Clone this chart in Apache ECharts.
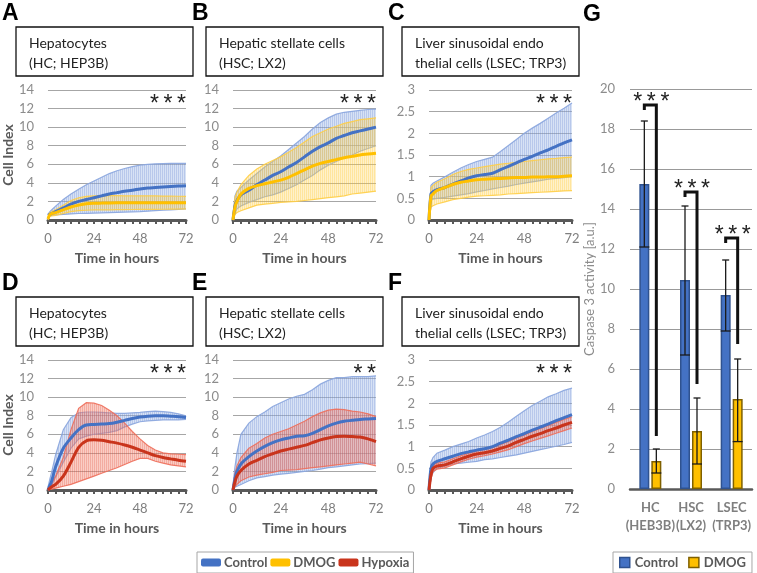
<!DOCTYPE html>
<html><head><meta charset="utf-8">
<script src="https://cdn.jsdelivr.net/npm/echarts@6/dist/echarts.min.js"></script>
<style>html,body{margin:0;padding:0;background:#fff}#c{width:757px;height:573px}</style>
</head><body><div id="c"></div>
<script>
// ---------- DATA ----------
const hours = [0,1,2,4,8,12,16,20,24,28,32,36,40,44,48,52,56,60,64,68,72];

// Panel A (HC, HEP3B) Control vs DMOG
const aCtrl   = [0.5,0.6,0.7,0.9,1.3,1.7,2.0,2.2,2.4,2.6,2.8,2.95,3.1,3.2,3.35,3.45,3.5,3.55,3.6,3.65,3.7];
const aCtrlHi = [0.6,0.9,1.1,1.5,2.2,2.8,3.3,3.8,4.2,4.6,5.0,5.3,5.55,5.75,5.9,6.0,6.05,6.08,6.1,6.1,6.1];
const aCtrlLo = [0.4,0.45,0.5,0.55,0.6,0.65,0.7,0.72,0.75,0.77,0.8,0.82,0.85,0.88,0.9,0.95,1.0,1.05,1.1,1.15,1.2];
const aDmog   = [0.1,0.6,0.7,0.8,1.1,1.4,1.6,1.75,1.8,1.82,1.84,1.85,1.85,1.86,1.86,1.86,1.86,1.85,1.85,1.85,1.85];
const aDmogHi = [0.3,0.8,0.9,1.1,1.6,2.1,2.4,2.55,2.6,2.62,2.62,2.62,2.6,2.6,2.6,2.6,2.6,2.58,2.57,2.56,2.55];
const aDmogLo = [0.0,0.4,0.45,0.5,0.7,0.9,1.0,1.05,1.1,1.1,1.1,1.12,1.12,1.13,1.14,1.15,1.15,1.16,1.17,1.18,1.2];
// Panel B (HSC, LX2)
const bCtrl   = [0,1.5,2.1,2.7,3.2,3.8,4.3,4.8,5.2,5.7,6.2,6.8,7.4,7.9,8.3,8.8,9.1,9.4,9.6,9.8,10.0];
const bCtrlHi = [0.3,2.6,3.1,3.5,4.3,5.0,5.7,6.3,6.9,7.6,8.3,9.0,9.8,10.5,11.0,11.4,11.6,11.7,11.8,11.9,11.95];
const bCtrlLo = [0,0.8,1.2,1.5,1.9,2.2,2.5,2.7,3.0,3.4,3.8,4.3,4.8,5.4,5.9,6.3,6.7,7.0,7.4,7.7,8.0];
const bDmog   = [0,1.4,2.0,2.8,3.4,3.7,3.9,4.1,4.3,4.6,5.0,5.4,5.8,6.1,6.3,6.5,6.7,6.85,7.0,7.1,7.2];
const bDmogHi = [0.2,2.4,3.0,3.8,4.8,5.5,6.0,6.4,6.8,7.3,7.8,8.4,9.0,9.4,9.8,10.1,10.4,10.6,10.8,10.9,11.0];
const bDmogLo = [0,0.6,0.8,1.0,1.3,1.6,1.7,1.8,1.9,1.95,2.0,2.1,2.2,2.3,2.4,2.5,2.6,2.8,2.9,3.0,3.1];
// Panel C (LSEC, TRP3)
const cCtrl   = [0,0.6,0.65,0.7,0.75,0.83,0.9,0.97,1.02,1.05,1.08,1.16,1.24,1.32,1.4,1.47,1.55,1.62,1.7,1.78,1.85];
const cCtrlHi = [0.1,0.8,0.85,0.9,1.0,1.1,1.2,1.28,1.35,1.4,1.45,1.58,1.72,1.86,2.0,2.12,2.23,2.35,2.47,2.58,2.7];
const cCtrlLo = [0,0.45,0.48,0.5,0.52,0.55,0.58,0.61,0.65,0.68,0.72,0.75,0.78,0.82,0.85,0.88,0.91,0.94,0.96,0.98,1.0];
const cDmog   = [0,0.55,0.6,0.68,0.75,0.82,0.87,0.9,0.93,0.94,0.95,0.96,0.97,0.98,0.98,0.99,0.99,1.0,1.0,1.01,1.02];
const cDmogHi = [0.1,0.75,0.8,0.87,0.95,1.05,1.12,1.17,1.2,1.23,1.26,1.29,1.31,1.33,1.35,1.37,1.39,1.41,1.42,1.44,1.45];
const cDmogLo = [0,0.3,0.33,0.37,0.42,0.47,0.5,0.53,0.55,0.56,0.57,0.58,0.6,0.61,0.62,0.63,0.64,0.65,0.66,0.67,0.68];
// Panel D (HC, HEP3B) Control vs Hypoxia
const dCtrl   = [0,0.5,1.0,2.5,4.5,5.6,6.5,7.0,7.05,7.1,7.15,7.3,7.5,7.7,7.85,7.95,8.0,8.0,7.95,7.9,7.8];
const dCtrlHi = [0.3,1.2,2.0,3.8,6.5,7.8,8.3,8.4,8.4,8.35,8.3,8.25,8.25,8.3,8.35,8.45,8.5,8.45,8.35,8.2,8.0];
const dCtrlLo = [0,0.2,0.5,1.4,3.0,4.5,5.5,5.8,6.0,6.1,6.2,6.4,6.8,7.1,7.35,7.45,7.5,7.55,7.55,7.55,7.6];
const dHyp    = [0,0.2,0.35,0.6,1.5,3.0,4.6,5.3,5.4,5.35,5.2,5.05,4.85,4.6,4.3,4.0,3.7,3.5,3.35,3.2,3.1];
const dHypHi  = [0.2,0.5,0.8,1.5,3.5,6.5,8.8,9.4,9.35,9.1,8.6,8.0,7.2,6.3,5.5,4.8,4.3,4.0,3.9,3.85,3.8];
const dHypLo  = [0,0.05,0.1,0.2,0.4,0.6,0.9,1.2,1.5,1.8,2.1,2.4,2.75,3.1,3.4,3.4,3.1,2.9,2.7,2.6,2.5];
// Panel E (HSC, LX2)
const eCtrl   = [0,1.2,2.0,2.8,3.6,4.2,4.7,5.1,5.4,5.6,5.8,5.85,6.1,6.5,6.9,7.2,7.4,7.5,7.6,7.65,7.7];
const eCtrlHi = [0.5,2.5,4.0,6.0,7.2,7.9,8.4,9.0,9.4,9.8,10.1,10.3,10.8,11.4,11.8,12.1,12.1,12.2,12.2,12.2,12.3];
const eCtrlLo = [0,0.3,0.4,0.6,1.0,1.3,1.45,1.6,1.7,1.8,1.9,2.0,2.1,2.25,2.4,2.5,2.6,2.7,2.8,2.85,2.9];
const eHyp    = [0,0.9,1.5,2.1,2.8,3.2,3.6,3.9,4.2,4.4,4.6,4.8,5.1,5.4,5.6,5.75,5.8,5.75,5.7,5.5,5.2];
const eHypHi  = [0.3,1.8,2.6,3.5,4.5,5.0,5.6,6.0,6.3,6.6,7.0,7.4,7.9,8.3,8.6,8.7,8.65,8.5,8.4,8.2,7.9];
const eHypLo  = [0,0.4,0.6,1.0,1.4,1.6,1.75,1.9,2.1,2.15,2.2,2.3,2.4,2.5,2.6,2.7,2.8,2.9,3.0,2.8,2.6];
// Panel F (LSEC, TRP3)
const fCtrl   = [0,0.5,0.6,0.66,0.72,0.78,0.84,0.88,0.92,0.95,1.0,1.08,1.15,1.23,1.3,1.38,1.45,1.52,1.6,1.67,1.74];
const fCtrlHi = [0.1,0.65,0.75,0.85,0.92,1.0,1.06,1.12,1.2,1.27,1.35,1.45,1.57,1.7,1.83,1.95,2.05,2.15,2.22,2.3,2.35];
const fCtrlLo = [0,0.3,0.4,0.5,0.55,0.6,0.62,0.64,0.66,0.7,0.72,0.75,0.78,0.81,0.85,0.89,0.93,0.97,1.01,1.05,1.1];
const fHyp    = [0,0.35,0.5,0.55,0.58,0.65,0.72,0.78,0.83,0.86,0.9,0.96,1.02,1.1,1.17,1.24,1.3,1.37,1.43,1.5,1.56];
const fHypHi  = [0.05,0.45,0.57,0.62,0.65,0.72,0.79,0.85,0.9,0.94,0.98,1.05,1.12,1.2,1.27,1.35,1.42,1.49,1.56,1.63,1.69];
const fHypLo  = [0,0.25,0.43,0.48,0.51,0.58,0.65,0.71,0.76,0.79,0.83,0.88,0.93,1.0,1.07,1.13,1.19,1.25,1.31,1.37,1.43];

// Panel G: caspase 3 activity
const gCategories = ['HC\n(HEB3B)','HSC\n(LX2)','LSEC\n(TRP3)'];
const gControl   = [15.25,10.45,9.7];
const gControlLo = [12.1,6.7,7.9];
const gControlHi = [18.4,14.15,11.45];
const gDmog      = [1.4,2.9,4.5];
const gDmogLo    = [0.8,1.25,2.37];
const gDmogHi    = [2.0,4.55,6.5];
const gBracketTop = [19.2,14.85,12.55];
const gBracketEnd = [2.65,5.25,7.25];

const boxTitles = ['Hepatocytes\n(HC; HEP3B)','Hepatic stellate cells\n(HSC; LX2)','Liver sinusoidal endo\nthelial cells (LSEC; TRP3)'];
const panelStars = ['***','***','***','***','**','***'];
const panelLetters = ['A','B','C','D','E','F','G'];

// ---------- STYLE / LAYOUT ----------
const FONT = 'Lato, "Liberation Sans", sans-serif';
const STARFONT = '23px "Liberation Sans", Arial, sans-serif';
const spaced = s => s.split('').join('\u2009');
function stripes(dark, light){
  const c = document.createElement('canvas'); c.width = 2; c.height = 4;
  const g = c.getContext('2d');
  g.fillStyle = dark; g.fillRect(0,0,1,4);
  g.fillStyle = light; g.fillRect(1,0,1,4);
  return {image:c, repeat:'repeat'};
}
const sty = {
  Control:{line:'#4472C4', fill:stripes('rgba(125,155,218,0.55)','rgba(160,185,230,0.42)'), edge:'rgba(140,168,222,0.95)'},
  DMOG:{line:'#FFC000', fill:stripes('rgba(255,200,50,0.48)','rgba(255,215,100,0.34)'), edge:'rgba(255,206,70,0.9)'},
  Hypoxia:{line:'#C9341C', fill:stripes('rgba(232,95,75,0.52)','rgba(242,130,110,0.40)'), edge:'rgba(238,110,90,0.9)'}
};
const colX = [43,233,429], rowY = [90,360];
const panels = [
  {groups:[['Control',aCtrl,aCtrlLo,aCtrlHi],['DMOG',aDmog,aDmogLo,aDmogHi]], ymax:14, yint:2},
  {groups:[['Control',bCtrl,bCtrlLo,bCtrlHi],['DMOG',bDmog,bDmogLo,bDmogHi]], ymax:14, yint:2},
  {groups:[['Control',cCtrl,cCtrlLo,cCtrlHi],['DMOG',cDmog,cDmogLo,cDmogHi]], ymax:3, yint:0.5},
  {groups:[['Control',dCtrl,dCtrlLo,dCtrlHi],['Hypoxia',dHyp,dHypLo,dHypHi]], ymax:14, yint:2},
  {groups:[['Control',eCtrl,eCtrlLo,eCtrlHi],['Hypoxia',eHyp,eHypLo,eHypHi]], ymax:14, yint:2},
  {groups:[['Control',fCtrl,fCtrlLo,fCtrlHi],['Hypoxia',fHyp,fHypLo,fHypHi]], ymax:3, yint:0.5}
];

const grids=[], xAxes=[], yAxes=[], series=[], graphics=[];
const pair = arr => hours.map((h,i)=>[h,arr[i]]);

function bandRender(fill, edge){
  return function(params, api){
    if (params.dataIndex !== 0) return null;
    const top = [], bot = [];
    for (let i=0;i<hours.length;i++){
      top.push(api.coord([api.value(0,i), api.value(2,i)]));
      bot.push(api.coord([api.value(0,i), api.value(1,i)]));
    }
    return {type:'group', children:[
      {type:'polygon', shape:{points: top.concat(bot.slice().reverse())}, style:{fill:fill}},
      {type:'polyline', shape:{points:top}, style:{stroke:edge, lineWidth:1.2, fill:'none'}},
      {type:'polyline', shape:{points:bot}, style:{stroke:edge, lineWidth:1.2, fill:'none'}}
    ]};
  };
}

panels.forEach((p,k)=>{
  const left = colX[k%3], top = rowY[Math.floor(k/3)];
  grids.push({left:left, top:top, width:143, height:130});
  xAxes.push({gridIndex:k, type:'value', min:0, max:72, interval:24,
    axisLine:{show:true, onZero:false, lineStyle:{color:'#595959', width:3}},
    axisTick:{show:true, length:4, lineStyle:{color:'#595959', width:2}},
    minorTick:{show:true, splitNumber:6, length:4, lineStyle:{color:'#595959', width:2}},
    splitLine:{show:false},
    axisLabel:{color:'#7f7f7f', fontSize:13, fontFamily:FONT, margin:12},
    name:'Time in hours', nameLocation:'middle', nameGap:31,
    nameTextStyle:{color:'#595959', fontWeight:'bold', fontSize:14, fontFamily:FONT}
  });
  yAxes.push({gridIndex:k, type:'value', min:0, max:p.ymax, interval:p.yint,
    axisLine:{show:false}, axisTick:{show:false},
    splitLine:{lineStyle:{color:'#a6a6a6', width:1}},
    axisLabel:{color:'#8c8c8c', fontSize:13, fontFamily:FONT, margin:14},
    name: (k%3===0)?'Cell Index':'', nameLocation:'middle', nameGap:27,
    nameTextStyle:{color:'#595959', fontWeight:'bold', fontSize:14, fontFamily:FONT}
  });
  p.groups.forEach(g=>{
    const [name, mean, lo, hi] = g; const s = sty[name];
    series.push({type:'custom', name:name+' band', xAxisIndex:k, yAxisIndex:k, silent:true, z:1,
      encode:{x:0, y:[1,2]}, data:hours.map((h,i)=>[h, lo[i], hi[i]]),
      renderItem:bandRender(s.fill, s.edge)});
  });
  p.groups.forEach(g=>{
    const [name, mean] = g; const s = sty[name];
    series.push({type:'line', name:name, xAxisIndex:k, yAxisIndex:k, data:pair(mean),
      symbol:'none', smooth:0.3, lineStyle:{color:s.line, width:3}, itemStyle:{color:s.line}, z:3});
  });
  const bx = left-27, by = top-63;
  graphics.push({type:'rect', shape:{x:bx, y:by, width:177, height:49}, style:{fill:'#fff', stroke:'#111', lineWidth:1.3}, z:10});
  graphics.push({type:'text', x:bx+13, y:by+6, style:{text:boxTitles[k%3], font:'14px '+FONT, fill:'#222', lineHeight:20}, z:11});
  graphics.push({type:'text', x:bx-14, y:by-25, style:{text:panelLetters[k], font:'bold 23px "Liberation Sans", Arial, sans-serif', fill:'#000'}, z:11});
  graphics.push({type:'text', x:left+143, y:top+15, style:{text:spaced(panelStars[k]), font:STARFONT, fill:'#222', align:'right', verticalAlign:'middle'}, z:11});
});

// ---------- Panel G ----------
const gi = panels.length;
grids.push({left:630, top:89, width:122, height:400});
xAxes.push({gridIndex:gi, type:'category', data:gCategories,
  axisLine:{lineStyle:{color:'#595959', width:2.5}}, axisTick:{show:false},
  axisLabel:{color:'#7f7f7f', fontWeight:'bold', fontSize:13, fontFamily:FONT, lineHeight:18, margin:10, interval:0}});
yAxes.push({gridIndex:gi, type:'value', min:0, max:20, interval:2,
  axisLine:{show:false}, axisTick:{show:false},
  splitLine:{lineStyle:{color:'#999', width:1}},
  axisLabel:{color:'#8c8c8c', fontSize:13, fontFamily:FONT, margin:15},
  name:'Caspase 3 activity [a.u.]', nameLocation:'middle', nameGap:30,
  nameTextStyle:{color:'#8c8c8c', fontSize:13, fontFamily:FONT}});
series.push({type:'bar', name:'Control', xAxisIndex:gi, yAxisIndex:gi, data:gControl, barWidth:10, barGap:'20%',
  itemStyle:{color:'#4472C4', borderColor:'#2F528F', borderWidth:1.5}, z:2});
series.push({type:'bar', name:'DMOG', xAxisIndex:gi, yAxisIndex:gi, data:gDmog, barWidth:10, barGap:'20%',
  itemStyle:{color:'#FFC000', borderColor:'#7F6000', borderWidth:1.5}, z:2});
function errRender(offset){
  return function(params, api){
    const i = api.value(0);
    const pLo = api.coord([i, api.value(1)]), pHi = api.coord([i, api.value(2)]);
    const x = pLo[0] + offset;
    const st = {stroke:'#1a1a1a', lineWidth:1.3};
    return {type:'group', children:[
      {type:'line', shape:{x1:x, y1:pLo[1], x2:x, y2:pHi[1]}, style:st},
      {type:'line', shape:{x1:x-3.5, y1:pHi[1], x2:x+3.5, y2:pHi[1]}, style:st},
      {type:'line', shape:{x1:x-5, y1:pLo[1], x2:x+5, y2:pLo[1]}, style:st}
    ]};
  };
}
series.push({type:'custom', name:'Control err', xAxisIndex:gi, yAxisIndex:gi, renderItem:errRender(-6), silent:true, z:5,
  encode:{x:0, y:[1,2]}, data:gControl.map((v,i)=>[i, gControlLo[i], gControlHi[i]])});
series.push({type:'custom', name:'DMOG err', xAxisIndex:gi, yAxisIndex:gi, renderItem:errRender(6), silent:true, z:5,
  encode:{x:0, y:[1,2]}, data:gDmog.map((v,i)=>[i, gDmogLo[i], gDmogHi[i]])});
series.push({type:'custom', name:'bracket', xAxisIndex:gi, yAxisIndex:gi, silent:true, z:6,
  encode:{x:0, y:[1,2]}, data:gBracketTop.map((v,i)=>[i, v, gBracketEnd[i]]),
  renderItem:function(params, api){
    const i = api.value(0);
    const pT = api.coord([i, api.value(1)]), pE = api.coord([i, api.value(2)]);
    const xL = pT[0]-6, xR = pT[0]+6, yT = pT[1], yE = pE[1];
    return {type:'group', children:[
      {type:'polyline', shape:{points:[[xL,yT+5],[xL,yT],[xR,yT],[xR,yE]]}, style:{stroke:'#111', lineWidth:3, fill:'none'}},
      {type:'text', x:(xL+xR)/2+1, y:yT-2, style:{text:spaced('***'), font:STARFONT, fill:'#222', align:'center', verticalAlign:'middle'}}
    ]};
  }});
graphics.push({type:'text', x:583, y:3, style:{text:'G', font:'bold 23px "Liberation Sans", Arial, sans-serif', fill:'#000'}, z:11});

const chart = echarts.init(document.getElementById('c'), null, {renderer:'canvas'});
chart.setOption({
  backgroundColor:'#fff',
  animation:false,
  grid:grids, xAxis:xAxes, yAxis:yAxes, series:series,
  graphic:graphics,
  legend:[
    {left:197, top:552, orient:'horizontal', icon:'roundRect', itemWidth:20, itemHeight:8, itemGap:3,
     padding:[4,4], borderColor:'#a6a6a6', borderWidth:1,
     textStyle:{color:'#595959', fontWeight:'bold', fontSize:13, fontFamily:FONT, padding:[0,0,0,-2]},
     data:[{name:'Control', itemStyle:{color:'#4472C4'}},{name:'DMOG', itemStyle:{color:'#FFC000'}},{name:'Hypoxia', itemStyle:{color:'#C9341C'}}],
     selectedMode:false},
    {left:613, top:552, orient:'horizontal', icon:'rect', itemWidth:10, itemHeight:10, itemGap:10,
     padding:[4,6], borderColor:'#a6a6a6', borderWidth:1,
     textStyle:{color:'#595959', fontWeight:'bold', fontSize:13, fontFamily:FONT},
     data:[{name:'Control', itemStyle:{color:'#4472C4', borderColor:'#2F528F', borderWidth:1.5}},
           {name:'DMOG', itemStyle:{color:'#FFC000', borderColor:'#7F6000', borderWidth:1.5}}],
     selectedMode:false}
  ]
});
</script></body></html>
